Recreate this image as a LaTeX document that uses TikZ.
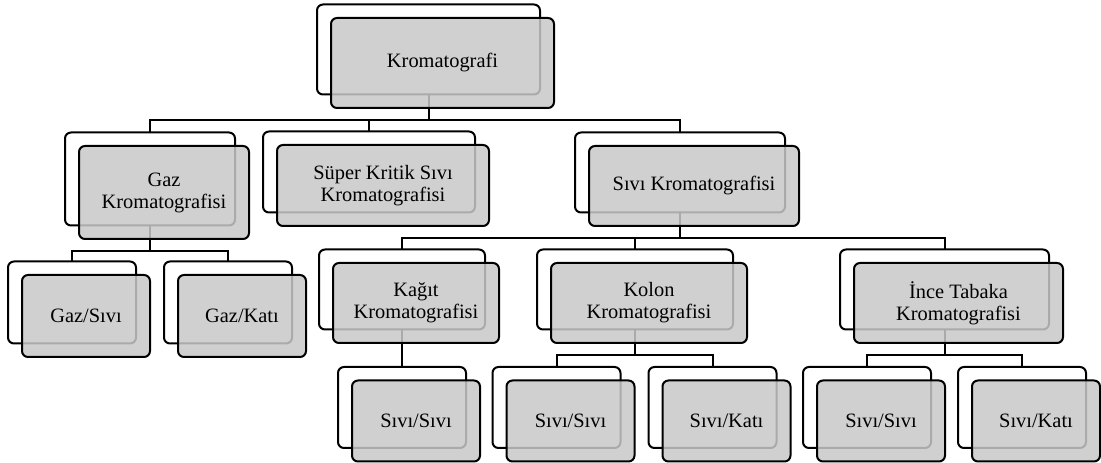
\documentclass[tikz,border=0pt]{standalone}
\usepackage{fontspec}
\setmainfont{Liberation Serif}
\definecolor{frontgray}{RGB}{200,200,200}
\tikzset{
 box/.style={draw=black, line width=1.5pt, rounded corners=4.5pt, inner sep=0pt, outer sep=0pt},
 backbox/.style={box, fill=white},
 frontbox/.style={box, fill=frontgray, fill opacity=0.85, text opacity=1, align=center,
   font=\fontsize{15.3}{16.5}\selectfont, text=black},
 conn/.style={draw=black, line width=1.5pt},
}
\newcommand\backnode[5]{\node[backbox, minimum width=#4*0.75pt, minimum height=#5*0.75pt] (#1) at ([shift={(-14,-13.5)}]#2,#3) {};}
\newcommand\frontnode[6]{\node[frontbox, minimum width=#4*0.75pt, minimum height=#5*0.75pt] (#1) at (#2,#3) {#6};}
\begin{document}
\begin{tikzpicture}[x=0.75pt,y=-0.75pt]
\useasboundingbox (0,0) rectangle (1101,463);
% back boxes
\backnode{kB}{442.5}{63}{223}{90}
\backnode{gB}{164}{192.5}{170}{93}
\backnode{sB}{383}{185.5}{212}{81}
\backnode{lB}{694}{186}{210}{80}
\backnode{kgB}{416}{303}{166}{80}
\backnode{koB}{649}{303}{196}{80}
\backnode{inB}{958.5}{303}{209}{80}
\backnode{gsB}{86}{316}{128}{82}
\backnode{gkB}{242}{316}{128}{82}
\backnode{ksB}{416}{421}{128}{81}
\backnode{csB}{570.5}{421}{128}{81}
\backnode{ckB}{726.5}{421}{128}{81}
\backnode{isB}{881}{421}{128}{81}
\backnode{ikB}{1036}{421}{128}{81}
% junctions
\coordinate (j0) at (428.5,120);
\coordinate (j1) at (150,251);
\coordinate (j2) at (680,238);
\coordinate (j3) at (635,355);
\coordinate (j4) at (944.5,355);
% connectors
\draw[conn] (kB.south) -- (j0);
\draw[conn] (j0) -| (gB.north);
\draw[conn] (j0) -| (sB.north);
\draw[conn] (j0) -| (lB.north);
\draw[conn] (gB.south) -- (j1);
\draw[conn] (j1) -| (gsB.north);
\draw[conn] (j1) -| (gkB.north);
\draw[conn] (lB.south) -- (j2);
\draw[conn] (j2) -| (kgB.north);
\draw[conn] (j2) -| (koB.north);
\draw[conn] (j2) -| (inB.north);
\draw[conn] (kgB.south) -- (ksB.north);
\draw[conn] (koB.south) -- (j3);
\draw[conn] (j3) -| (csB.north);
\draw[conn] (j3) -| (ckB.north);
\draw[conn] (inB.south) -- (j4);
\draw[conn] (j4) -| (isB.north);
\draw[conn] (j4) -| (ikB.north);
% front boxes
\frontnode{kF}{442.5}{63}{223}{90}{Kromatografi}
\frontnode{gF}{164}{192.5}{170}{93}{Gaz\\Kromatografisi}
\frontnode{sF}{383}{185.5}{212}{81}{Süper Kritik Sıvı\\Kromatografisi}
\frontnode{lF}{694}{186}{210}{80}{Sıvı Kromatografisi}
\frontnode{kgF}{416}{303}{166}{80}{Kağıt\\Kromatografisi}
\frontnode{koF}{649}{303}{196}{80}{Kolon\\Kromatografisi}
\frontnode{inF}{958.5}{303}{209}{80}{İnce Tabaka\\Kromatografisi}
\frontnode{gsF}{86}{316}{128}{82}{Gaz/Sıvı}
\frontnode{gkF}{242}{316}{128}{82}{Gaz/Katı}
\frontnode{ksF}{416}{421}{128}{81}{Sıvı/Sıvı}
\frontnode{csF}{570.5}{421}{128}{81}{Sıvı/Sıvı}
\frontnode{ckF}{726.5}{421}{128}{81}{Sıvı/Katı}
\frontnode{isF}{881}{421}{128}{81}{Sıvı/Sıvı}
\frontnode{ikF}{1036}{421}{128}{81}{Sıvı/Katı}
\end{tikzpicture}
\end{document}
